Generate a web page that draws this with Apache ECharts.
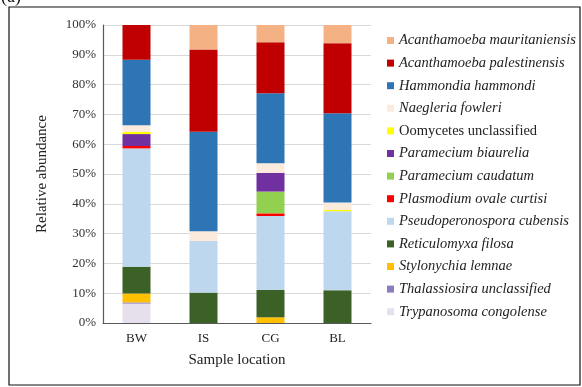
<!DOCTYPE html>
<html>
<head>
<meta charset="utf-8">
<title>Relative abundance by sample location</title>
<script src="https://cdn.jsdelivr.net/npm/echarts@6/dist/echarts.min.js"></script>
</head>
<body style="margin:0;background:#fff">
<div id="main" style="width:582px;height:387px;"></div>
<script>
// sample locations on the x axis
var locations = ['BW', 'IS', 'CG', 'BL'];
var yTicks = [0, 10, 20, 30, 40, 50, 60, 70, 80, 90, 100];

// relative abundance (%) per taxon, in order BW, IS, CG, BL
var acanthamoebaMauritaniensis = [0, 8.2, 5.8, 6.1];
var acanthamoebaPalestinensis  = [11.7, 27.6, 17.1, 23.5];
var hammondiaHammondi          = [21.9, 33.4, 23.5, 30.0];
var naegleriaFowleri           = [2.3, 3.3, 3.2, 2.4];
var oomycetesUnclassified      = [0.7, 0, 0, 0.5];
var parameciumBiaurelia        = [4.0, 0, 6.3, 0];
var parameciumCaudatum         = [0, 0, 7.3, 0];
var plasmodiumOvaleCurtisi     = [0.8, 0, 0.9, 0];
var pseudoperonosporaCubensis  = [39.7, 17.3, 24.8, 26.5];
var reticulomyxaFilosa         = [9.0, 10.2, 9.2, 11.0];
var stylonychiaLemnae          = [3.0, 0, 1.9, 0];
var thalassiosiraUnclassified  = [0.4, 0, 0, 0];
var trypanosomaCongolense      = [6.5, 0, 0, 0];

// legend order (top to bottom); the stack is drawn in the reverse order
var taxa = [
    ['Acanthamoeba mauritaniensis', acanthamoebaMauritaniensis, '#F4B183', true],
    ['Acanthamoeba palestinensis', acanthamoebaPalestinensis, '#C00000', true],
    ['Hammondia hammondi', hammondiaHammondi, '#2E75B6', true],
    ['Naegleria fowleri', naegleriaFowleri, '#FCEBDC', true],
    ['Oomycetes unclassified', oomycetesUnclassified, '#FFFF00', false],
    ['Paramecium biaurelia', parameciumBiaurelia, '#7030A0', true],
    ['Paramecium caudatum', parameciumCaudatum, '#92D050', true],
    ['Plasmodium ovale curtisi', plasmodiumOvaleCurtisi, '#FF0000', true],
    ['Pseudoperonospora cubensis', pseudoperonosporaCubensis, '#BDD7EE', true],
    ['Reticulomyxa filosa', reticulomyxaFilosa, '#3B6127', true],
    ['Stylonychia lemnae', stylonychiaLemnae, '#FFC000', true],
    ['Thalassiosira unclassified', thalassiosiraUnclassified, '#8E7CC3', true],
    ['Trypanosoma congolense', trypanosomaCongolense, '#E6E0EC', true]
];

var italicNames = {};
taxa.forEach(function (t) { italicNames[t[0]] = t[3]; });

var series = taxa.slice().reverse().map(function (t) {
    return {
        name: t[0],
        type: 'bar',
        stack: 'total',
        barWidth: 28,
        data: t[1],
        itemStyle: { color: t[2] }
    };
});

var serif = '"Liberation Serif", "DejaVu Serif", serif';
var myChart = echarts.init(document.getElementById('main'));

var option = {
    animation: false,
    textStyle: { fontFamily: serif },
    grid: { left: 103, right: 211, top: 25, bottom: 64 },
    legend: {
        orient: 'vertical',
        left: 382,
        top: 28,
        icon: 'rect',
        itemWidth: 7,
        itemHeight: 7,
        itemGap: 7.6,
        data: taxa.map(function (t) { return t[0]; }),
        formatter: function (name) {
            return italicNames[name] ? '{i|' + name + '}' : '{n|' + name + '}';
        },
        textStyle: {
            fontFamily: serif,
            fontSize: 14.5,
            lineHeight: 15,
            color: '#222',
            rich: {
                i: { fontStyle: 'italic', fontFamily: serif, fontSize: 14.5, lineHeight: 15, color: '#222' },
                n: { fontFamily: serif, fontSize: 14.5, lineHeight: 15, color: '#222' }
            }
        }
    },
    xAxis: {
        type: 'category',
        data: locations,
        name: 'Sample location',
        nameLocation: 'middle',
        nameGap: 30,
        nameTextStyle: { fontFamily: serif, fontSize: 15, color: '#222' },
        axisLine: { lineStyle: { color: '#595959', width: 1.2 } },
        axisTick: { show: false },
        axisLabel: { fontFamily: serif, fontSize: 13, color: '#222', margin: 9 }
    },
    yAxis: {
        type: 'value',
        min: yTicks[0],
        max: yTicks[yTicks.length - 1],
        interval: 10,
        name: 'Relative abundance',
        nameLocation: 'middle',
        nameGap: 53,
        nameTextStyle: { fontFamily: serif, fontSize: 15, color: '#222' },
        axisLine: { show: true, lineStyle: { color: '#595959', width: 1.2 } },
        axisTick: { show: false },
        axisLabel: { fontFamily: serif, fontSize: 13, color: '#333', margin: 7, formatter: '{value}%' },
        splitLine: { lineStyle: { color: '#d9d9d9' } }
    },
    graphic: [
        {
            type: 'rect',
            shape: { x: 9, y: 7, width: 571, height: 378 },
            style: { fill: 'none', stroke: '#111', lineWidth: 1.2 },
            silent: true
        },
        {
            type: 'text',
            left: 1,
            top: -12,
            style: { text: '(a)', font: '18px "Liberation Serif", serif', fill: '#111' }
        }
    ],
    series: series
};

myChart.setOption(option);
</script>
</body>
</html>
